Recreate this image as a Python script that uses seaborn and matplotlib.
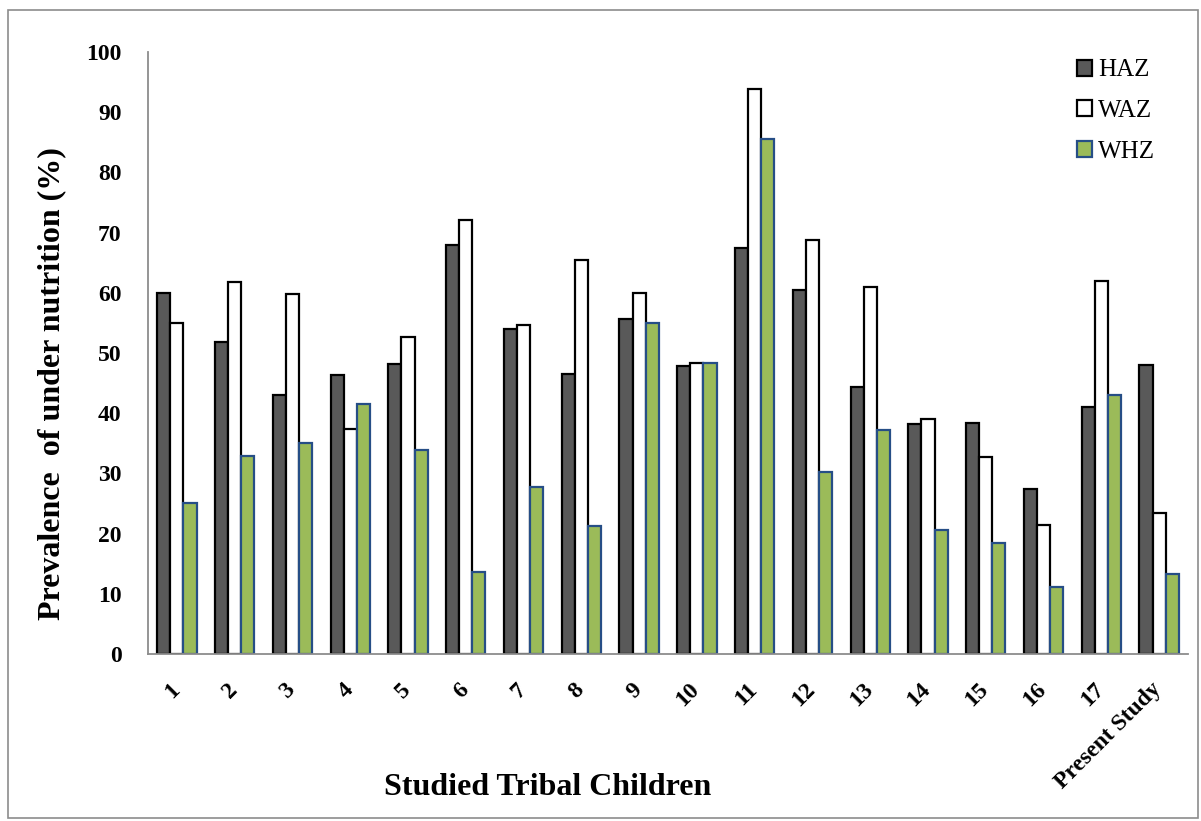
import matplotlib
matplotlib.use("Agg")
import matplotlib.pyplot as plt
import matplotlib.transforms as mtransforms
import seaborn as sns
import pandas as pd
from matplotlib.patches import Rectangle

categories = ["1", "2", "3", "4", "5", "6", "7", "8", "9", "10", "11", "12",
              "13", "14", "15", "16", "17", "Present Study"]
haz = [60.0, 51.8, 43.0, 46.3, 48.2, 67.9, 54.0, 46.5, 55.6, 47.8, 67.4, 60.5,
       44.4, 38.2, 38.4, 27.4, 41.0, 48.0]
waz = [55.0, 61.8, 59.8, 37.4, 52.7, 72.1, 54.7, 65.4, 60.0, 48.3, 93.9, 68.8,
       61.0, 39.0, 32.7, 21.5, 62.0, 23.5]
whz = [25.1, 32.9, 35.0, 41.5, 33.9, 13.6, 27.7, 21.3, 55.0, 48.3, 85.5, 30.2,
       37.2, 20.6, 18.4, 11.2, 43.0, 13.3]
series = ["HAZ", "WAZ", "WHZ"]

rows = []
for name, vals in zip(series, [haz, waz, whz]):
    for c, v in zip(categories, vals):
        rows.append({"Study": c, "Index": name, "Value": v})
df = pd.DataFrame(rows)

sns.set_theme(style="white")
plt.rcParams["font.family"] = ["Liberation Serif", "DejaVu Serif"]
plt.rcParams["text.color"] = "black"
plt.rcParams["xtick.color"] = "black"
plt.rcParams["ytick.color"] = "black"
plt.rcParams["axes.labelcolor"] = "black"

fig = plt.figure(figsize=(12.01, 8.21), dpi=100)
ax = fig.add_axes([148 / 1201, 1 - 654 / 821, (1188 - 148) / 1201, (654 - 52) / 821])

fills = {"HAZ": "#595959", "WAZ": "#FFFFFF", "WHZ": "#9BBB59"}
edges = {"HAZ": "#000000", "WAZ": "#000000", "WHZ": "#264E86"}

sns.barplot(data=df, x="Study", y="Value", hue="Index", order=categories,
            hue_order=series, palette=fills, width=0.68, ax=ax, saturation=1,
            legend=True)

for cont, name in zip(ax.containers, series):
    for bar in cont:
        bar.set_edgecolor(edges[name])
        bar.set_linewidth(1.6)

ax.set_ylim(0, 100)
ax.set_xlim(-0.5, 17.5)
ax.set_yticks(range(0, 101, 10))
ax.set_yticklabels([str(v) for v in range(0, 101, 10)], fontsize=17, fontweight="bold")
ax.set_xticks(range(len(categories)))
ax.set_xticklabels(categories, rotation=45, ha="right", rotation_mode="anchor",
                   fontsize=17, fontweight="bold")
ax.tick_params(axis="y", length=0, pad=19)
ax.tick_params(axis="x", length=0, pad=18)
shift = mtransforms.ScaledTranslation(-8 / 100, 0, fig.dpi_scale_trans)
for lbl in ax.get_xticklabels():
    lbl.set_transform(lbl.get_transform() + shift)

for s in ["top", "right"]:
    ax.spines[s].set_visible(False)
for s in ["left", "bottom"]:
    ax.spines[s].set_color("#8C8C8C")
    ax.spines[s].set_linewidth(1.3)

ax.set_xlabel("")
ax.set_ylabel("Prevalence  of under nutrition (%)", fontsize=23, fontweight="bold")
ax.yaxis.set_label_coords(-0.079, 0.45)
fig.text(548 / 1201, 1 - 787 / 821, "Studied Tribal Children", fontsize=23,
         fontweight="bold", ha="center", va="center")

handles, labels = ax.get_legend_handles_labels()
for h, name in zip(handles, series):
    h.set_edgecolor(edges[name])
    h.set_linewidth(1.6)
leg = ax.legend(handles, labels, loc="upper right", bbox_to_anchor=(0.99, 1.025),
                frameon=False, fontsize=18, handlelength=0.6, handleheight=0.6,
                handletextpad=0.25, labelspacing=0.75)

fig.patches.append(Rectangle((8 / 1201, 1 - 818 / 821), (1198 - 8) / 1201, (818 - 10) / 821,
                             transform=fig.transFigure, fill=False,
                             edgecolor="#8C8C8C", linewidth=1.2))

fig.savefig("out.png", dpi=100)
